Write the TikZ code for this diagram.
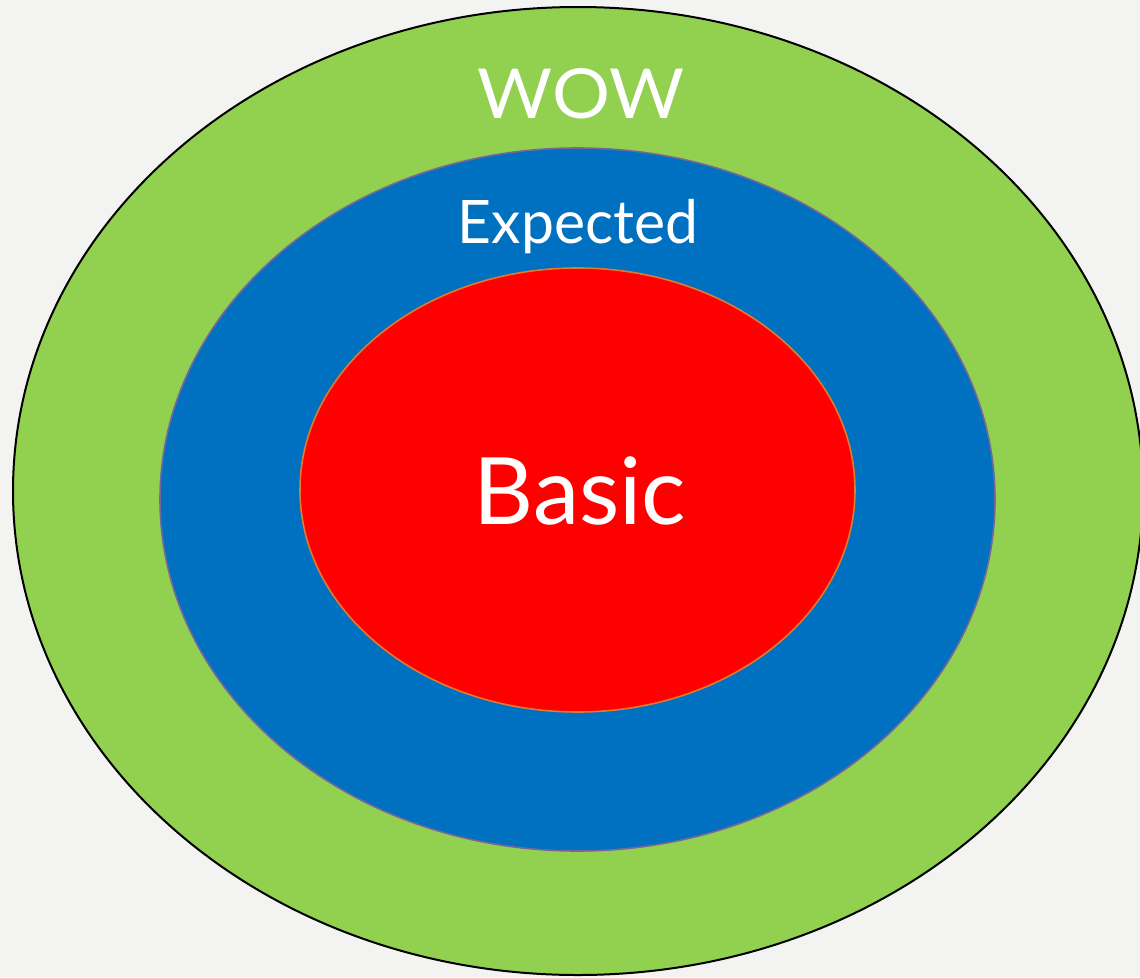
\documentclass[tikz,border=0pt]{standalone}
\usepackage{fontspec}
\setmainfont{Lato}
\usetikzlibrary{shapes.geometric}
\definecolor{bg}{HTML}{F3F3F1}
\definecolor{wowgreen}{HTML}{92D050}
\definecolor{expblue}{HTML}{0070C0}
\definecolor{basred}{HTML}{FF0000}
\definecolor{blueedge}{HTML}{76679A}
\definecolor{rededge}{HTML}{E07A2E}
\tikzset{
  ring/.style={ellipse, inner sep=0pt, outer sep=0pt},
  lbl/.style={text=white, anchor=base, inner sep=0pt},
}
\begin{document}
\begin{tikzpicture}[x=1pt,y=-1pt]
\useasboundingbox (0,0) rectangle (1140,977);
\fill[bg] (0,0) rectangle (1140,977);
\clip (0,0) rectangle (1140,977);
\node[ring, fill=wowgreen, draw=black, line width=2pt, minimum width=1130pt, minimum height=968pt] (wow) at (578,491) {};
\node[ring, fill=expblue, draw=blueedge, line width=1.6pt, minimum width=835pt, minimum height=703pt] (exp) at (577.5,499.5) {};
\node[ring, fill=basred, draw=rededge, line width=1.6pt, minimum width=555pt, minimum height=444pt] (bas) at (577.5,490) {};
\node[lbl, font=\fontsize{69}{80}\selectfont, xscale=1.05] (wowt) at (581,118) {WOW};
\node[lbl, font=\fontsize{60}{70}\selectfont, xscale=0.98] (expt) at (578,243) {Expected};
\node[lbl, font=\fontsize{93}{110}\selectfont] (bast) at (580,524) {Basic};
\end{tikzpicture}
\end{document}
